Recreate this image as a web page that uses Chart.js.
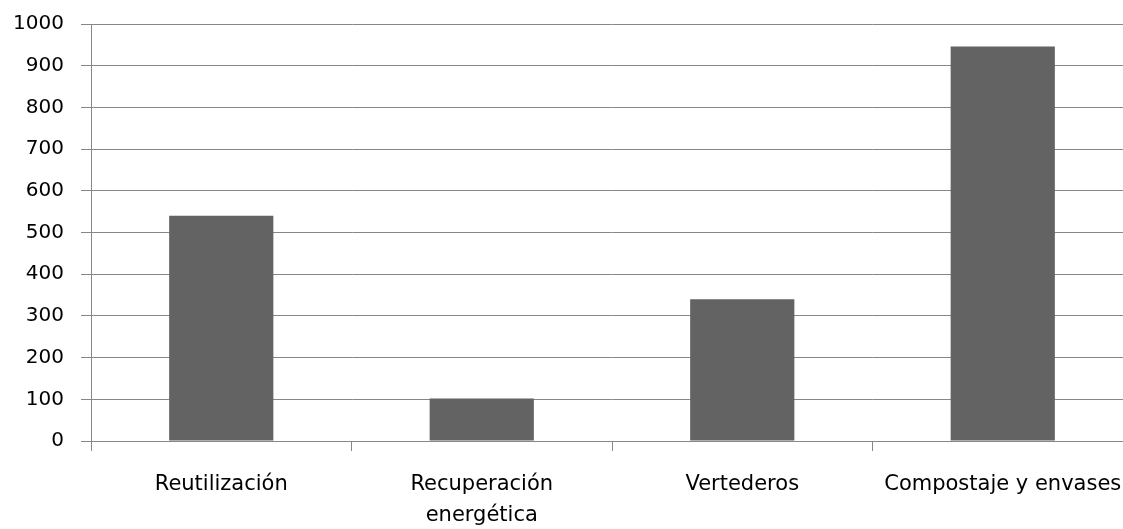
<!DOCTYPE html>
<html>
<head>
    <meta charset="utf-8">
    <title>Residuos</title>
    <script src="https://cdn.jsdelivr.net/npm/chart.js"></script>
    <style>
        html, body { margin: 0; padding: 0; overflow: hidden; background: #fff; }
    </style>
</head>
<body>
<div style="width: 1140px; height: 529px; position: relative;">
    <canvas id="barChart"></canvas>
</div>

<script>
    const categories = ['Reutilización', ['Recuperación', 'energética'], 'Vertederos', 'Compostaje y envases'];
    const values = [540, 102, 340, 946];
    const yTicks = [0, 100, 200, 300, 400, 500, 600, 700, 800, 900, 1000];

    const gridGray = '#878787';
    const family = '"DejaVu Sans", sans-serif';

    const ctx = document.getElementById('barChart').getContext('2d');

    new Chart(ctx, {
        type: 'bar',
        data: {
            labels: categories,
            datasets: [{
                data: values,
                backgroundColor: '#636363',
                borderWidth: 0,
                categoryPercentage: 1.0,
                barPercentage: 0.4
            }]
        },
        options: {
            responsive: true,
            maintainAspectRatio: false,
            animation: false,
            layout: { padding: { top: 24, right: 7, bottom: 0, left: 0 } },
            plugins: {
                legend: { display: false },
                tooltip: { enabled: false }
            },
            scales: {
                x: {
                    offset: true,
                    grid: {
                        offset: true,
                        drawOnChartArea: false,
                        drawTicks: true,
                        tickLength: 10,
                        color: gridGray
                    },
                    border: { color: gridGray, width: 1 },
                    ticks: {
                        color: '#000',
                        font: { family: family, size: 21, lineHeight: 1.48 },
                        padding: 18,
                        maxRotation: 0,
                        autoSkip: false
                    },
                    afterFit: axis => {
                        axis.height = 88;
                        axis.paddingLeft = 0;
                        axis.paddingRight = 0;
                    }
                },
                y: {
                    min: 0,
                    max: 1000,
                    afterBuildTicks: axis => { axis.ticks = yTicks.map(v => ({ value: v })); },
                    grid: {
                        color: gridGray,
                        tickLength: 10
                    },
                    border: { color: gridGray, width: 1 },
                    ticks: {
                        color: '#000',
                        font: { family: family, size: 20 },
                        padding: 17,
                        callback: v => String(v)
                    },
                    afterFit: axis => {
                        axis.width = 91;
                        axis.paddingTop = 0;
                        axis.paddingBottom = 0;
                    }
                }
            }
        }
    });
</script>
</body>
</html>
